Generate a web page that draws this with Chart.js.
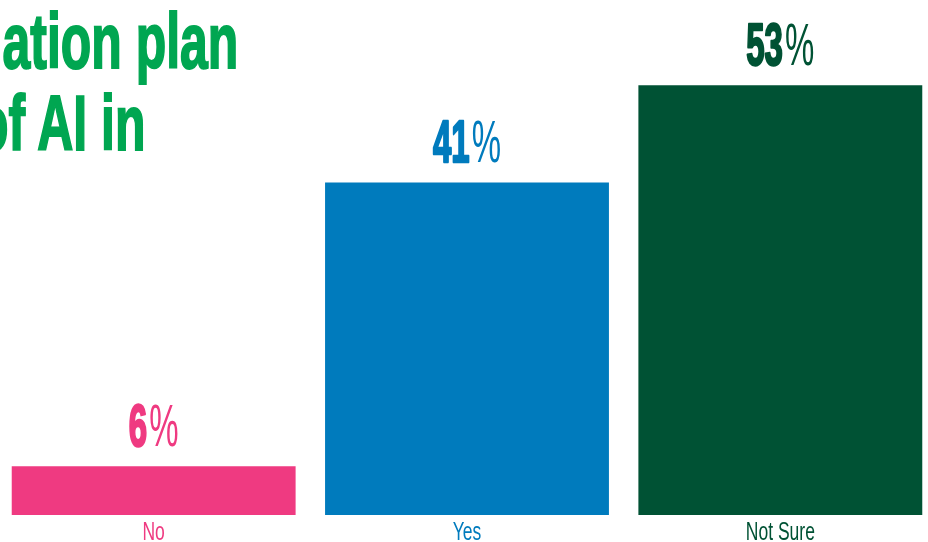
<!DOCTYPE html>
<html>
<head>
<meta charset="utf-8">
<script src="https://cdn.jsdelivr.net/npm/chart.js@4"></script>
<style>
  html, body { margin: 0; padding: 0; background: #fff; width: 928px; height: 542px; overflow: hidden; }
  .stage { position: relative; width: 928px; height: 542px; overflow: hidden; }
  .headline {
    position: absolute;
    white-space: nowrap;
    font-family: "Liberation Sans", Arial, sans-serif;
    font-weight: bold;
    font-size: 78px;
    line-height: 78px;
    color: #00a651;
    -webkit-text-stroke: 2px #00a651;
    transform: scaleX(0.64);
    transform-origin: right top;
  }
  #chartWrap { position: absolute; left: -3px; top: 0; width: 940px; height: 542px; }
</style>
</head>
<body>
<div class="stage">
  <div class="headline" style="right: 690px; top: 2px;">ation plan</div>
  <div class="headline" style="right: 783px; top: 84px;">of AI in</div>
  <div id="chartWrap"><canvas id="answerChart" width="940" height="542"></canvas></div>
</div>
<script>
// Survey answers and their shares (%)
const categories = ['No', 'Yes', 'Not Sure'];
const shares = [6, 41, 53];
const barColors = ['#ef3a81', '#007bbd', '#005234'];

// Draws the "NN%" figure above each bar and the answer name below it
const barLabels = {
    id: 'barLabels',
    afterDatasetsDraw(chart) {
        const ctx = chart.ctx;
        const meta = chart.getDatasetMeta(0);
        const bottom = chart.chartArea.bottom;

        meta.data.forEach((bar, i) => {
            const num = String(shares[i]);

            ctx.save();
            ctx.fillStyle = barColors[i];
            ctx.strokeStyle = barColors[i];
            ctx.lineWidth = 2.5;
            ctx.lineJoin = 'round';
            ctx.textBaseline = 'alphabetic';
            ctx.textAlign = 'left';

            ctx.font = 'bold 60px "Liberation Sans"';
            const numW = ctx.measureText(num).width;
            ctx.font = '60px "Liberation Sans"';
            const pctW = ctx.measureText('%').width;

            ctx.translate(bar.x, bar.y - 20);
            ctx.scale(0.55, 1);
            const startX = -(numW + pctW + 4) / 2;
            ctx.font = 'bold 60px "Liberation Sans"';
            ctx.fillText(num, startX, 0);
            ctx.strokeText(num, startX, 0);
            ctx.font = '60px "Liberation Sans"';
            ctx.fillText('%', startX + numW + 4, 0);
            ctx.restore();

            ctx.save();
            ctx.fillStyle = barColors[i];
            ctx.textBaseline = 'alphabetic';
            ctx.textAlign = 'center';
            ctx.font = '25px "Liberation Sans"';
            ctx.translate(bar.x, bottom + 25);
            ctx.scale(0.7, 1);
            ctx.fillText(categories[i], 0, 0);
            ctx.restore();
        });
    }
};

new Chart(document.getElementById('answerChart'), {
    type: 'bar',
    data: {
        labels: categories,
        datasets: [{
            data: shares,
            backgroundColor: barColors,
            borderWidth: 0,
            categoryPercentage: 1,
            barPercentage: 0.906
        }]
    },
    options: {
        responsive: false,
        animation: false,
        devicePixelRatio: 1,
        layout: { padding: { top: 0, bottom: 27, left: 0, right: 0 } },
        plugins: {
            legend: { display: false },
            tooltip: { enabled: false },
            title: { display: false }
        },
        scales: {
            x: { display: false, grid: { display: false } },
            y: { display: false, min: 0, max: 63.5, grid: { display: false } }
        }
    },
    plugins: [barLabels]
});
</script>
</body>
</html>
